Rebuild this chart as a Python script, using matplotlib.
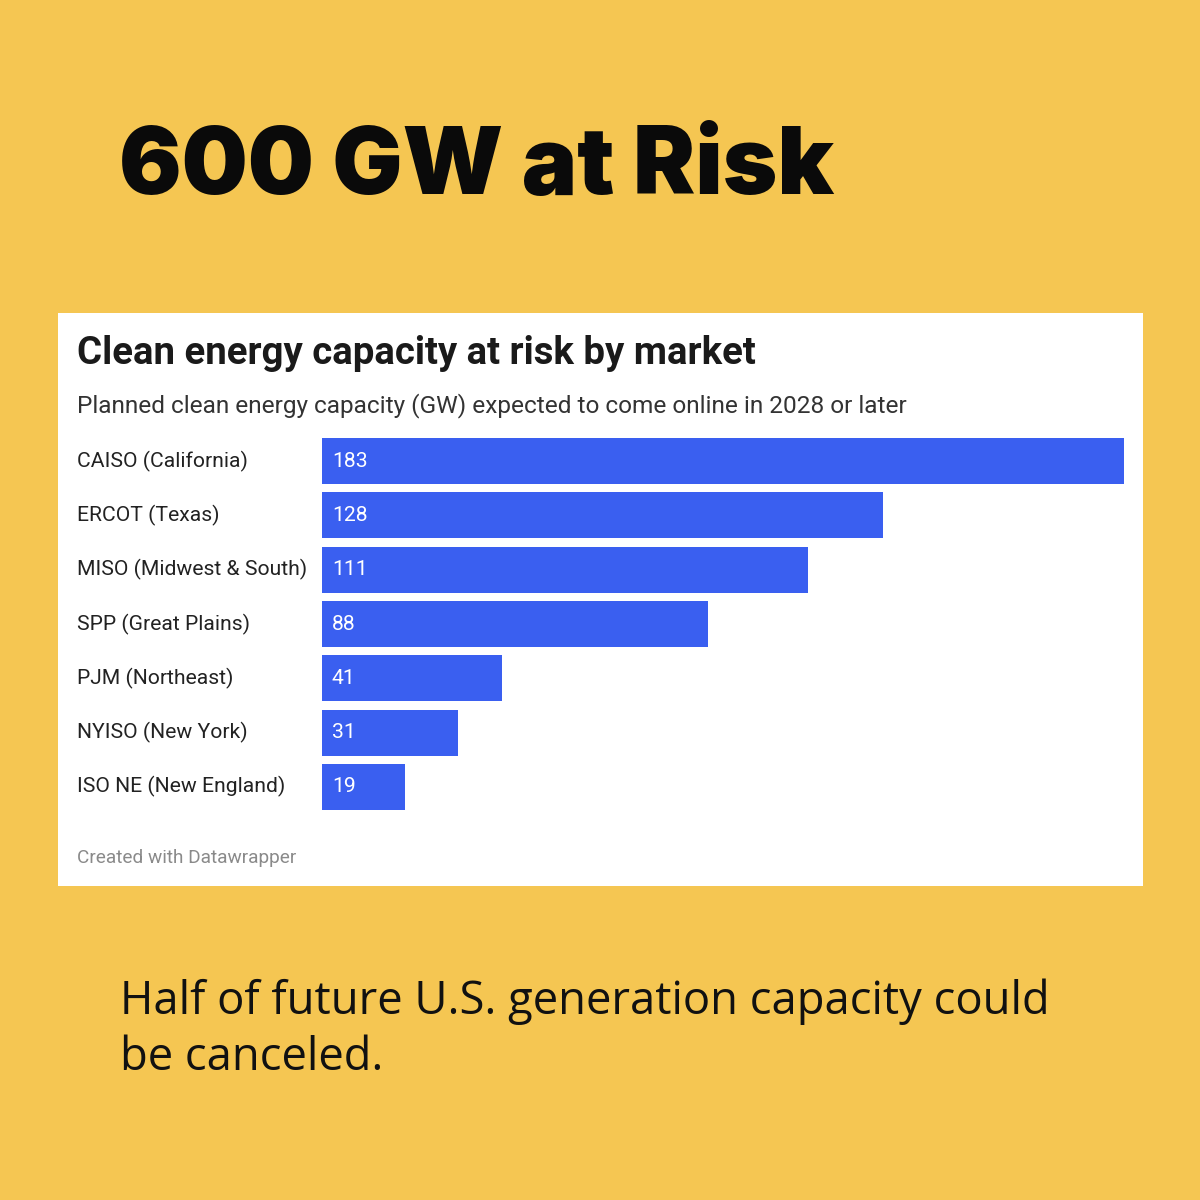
import matplotlib
matplotlib.use("Agg")
import matplotlib.pyplot as plt
import matplotlib.transforms as mtransforms

markets = ["CAISO (California)", "ERCOT (Texas)", "MISO (Midwest & South)",
           "SPP (Great Plains)", "PJM (Northeast)", "NYISO (New York)",
           "ISO NE (New England)"]
capacity_gw = [183, 128, 111, 88, 41, 31, 19]

headline = "600 GW at Risk"
chart_title = "Clean energy capacity at risk by market"
chart_subtitle = "Planned clean energy capacity (GW) expected to come online in 2028 or later"
footer = "Created with Datawrapper"
caption = "Half of future U.S. generation capacity could\nbe canceled."

W = H = 1200
BG = "#F5C652"
BAR = "#3A5FF0"

fig = plt.figure(figsize=(12, 12), dpi=100, facecolor=BG)

def fx(px):
    return px / W

def fy(py):
    return 1 - py / H

# white card as a background axes
card = fig.add_axes([fx(58), fy(886), fx(1143) - fx(58), fy(313) - fy(886)], zorder=0)
card.set_facecolor("white")
card.set_xticks([])
card.set_yticks([])
for s in card.spines.values():
    s.set_visible(False)

fig.text(fx(119), fy(170), headline, fontsize=67, fontweight="black",
         family=["Inter", "DejaVu Sans"], color="#0a0a0a", va="center", ha="left", zorder=5)

fig.text(fx(77), fy(353), chart_title, fontsize=27.6, fontweight="bold",
         family=["Roboto", "DejaVu Sans"], color="#1a1a1a", va="center", ha="left", zorder=5)
fig.text(fx(77), fy(406), chart_subtitle, fontsize=17.6,
         family=["Roboto", "DejaVu Sans"], color="#333333", va="center", ha="left", zorder=5)
fig.text(fx(77), fy(858), footer, fontsize=13.7,
         family=["Roboto", "DejaVu Sans"], color="#8a8a8a", va="center", ha="left", zorder=5)

fig.text(fx(120), fy(1030), caption, fontsize=32.7, linespacing=1.3,
         family=["Open Sans", "DejaVu Sans"], color="#111111", va="center", ha="left", zorder=5)

ax = fig.add_axes([fx(322), fy(814), fx(1124) - fx(322), fy(434) - fy(814)], zorder=2)
ax.set_facecolor("none")
ax.barh(range(len(markets)), capacity_gw, height=0.847, color=BAR)
ax.set_xlim(0, max(capacity_gw))
ax.set_ylim(len(markets) - 0.5, -0.5)
ax.axis("off")

blend = mtransforms.blended_transform_factory(fig.transFigure, ax.transData)
for i, (m, v) in enumerate(zip(markets, capacity_gw)):
    ax.text(fx(77), i, m, transform=blend, fontsize=15.2, clip_on=False,
            family=["Roboto", "DejaVu Sans"], color="#222222", va="center", ha="left")
    ax.text(fx(332), i, str(v), transform=blend, fontsize=15.2, clip_on=False,
            family=["Roboto", "DejaVu Sans"], color="white", va="center", ha="left")

fig.savefig("out.png", dpi=100, facecolor=BG)
